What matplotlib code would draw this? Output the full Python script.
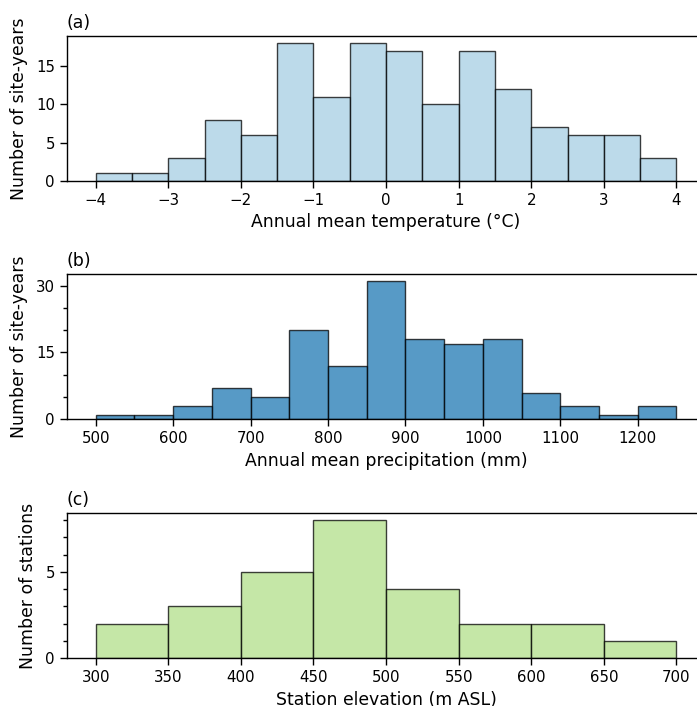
import numpy as np
import matplotlib
matplotlib.use("Agg")
import matplotlib.pyplot as plt
from matplotlib.ticker import MultipleLocator

# Histogram bin edges and counts
temp_edges = [-4.0, -3.5, -3.0, -2.5, -2.0, -1.5, -1.0, -0.5, 0.0,
              0.5, 1.0, 1.5, 2.0, 2.5, 3.0, 3.5, 4.0]
temp_counts = [1, 1, 3, 8, 6, 18, 11, 18, 17, 10, 17, 12, 7, 6, 6, 3]

precip_edges = [500, 550, 600, 650, 700, 750, 800, 850, 900,
                950, 1000, 1050, 1100, 1150, 1200, 1250]
precip_counts = [1, 1, 3, 7, 5, 20, 12, 31, 18, 17, 18, 6, 3, 1, 3]

elev_edges = [300, 350, 400, 450, 500, 550, 600, 650, 700]
elev_counts = [2, 3, 5, 8, 4, 2, 2, 1]

panel_labels = ["(a)", "(b)", "(c)"]
x_labels = ["Annual mean temperature (°C)",
            "Annual mean precipitation (mm)",
            "Station elevation (m ASL)"]
y_labels = ["Number of site-years", "Number of site-years", "Number of stations"]
colors = ["#a6cee3", "#1f78b4", "#b2df8a"]  # Paired palette

plt.rcParams["font.family"] = "DejaVu Sans"

fig = plt.figure(figsize=(6.97, 7.06), dpi=100)

# axes positions (fig fraction); right edge runs slightly past the figure
left, width, height = 0.0957, 0.9164, 0.2054
bottoms = [0.7436, 0.4061, 0.0676]

datasets = [(temp_edges, temp_counts), (precip_edges, precip_counts), (elev_edges, elev_counts)]
x_major = [1, 100, 50]
y_major = [5, 15, 5]
y_minor = [None, 5, 1]

for i, (edges, counts) in enumerate(datasets):
    ax = fig.add_axes([left, bottoms[i], width, height])
    edges = np.asarray(edges, dtype=float)
    ax.bar(edges[:-1], counts, width=np.diff(edges), align="edge",
           color=colors[i], alpha=0.75, edgecolor="black", linewidth=1.0)

    # 5% margin on x, none below zero on y
    span = edges[-1] - edges[0]
    ax.set_xlim(edges[0] - 0.05 * span, edges[-1] + 0.05 * span)
    ax.set_ylim(0, max(counts) * 1.05)

    ax.xaxis.set_major_locator(MultipleLocator(x_major[i]))
    ax.yaxis.set_major_locator(MultipleLocator(y_major[i]))
    if y_minor[i] is not None:
        ax.yaxis.set_minor_locator(MultipleLocator(y_minor[i]))

    ax.tick_params(axis="both", which="major", labelsize=10.8, length=5, width=1.0)
    ax.tick_params(axis="y", which="minor", length=3, width=1.0)
    for sp in ax.spines.values():
        sp.set_linewidth(1.0)

    ax.set_xlabel(x_labels[i], fontsize=12.4, labelpad=4)
    ax.set_ylabel(y_labels[i], fontsize=12.4, labelpad=6)
    ax.set_title(panel_labels[i], loc="left", fontsize=12.4, pad=6)

fig.savefig("out.png", dpi=100)
